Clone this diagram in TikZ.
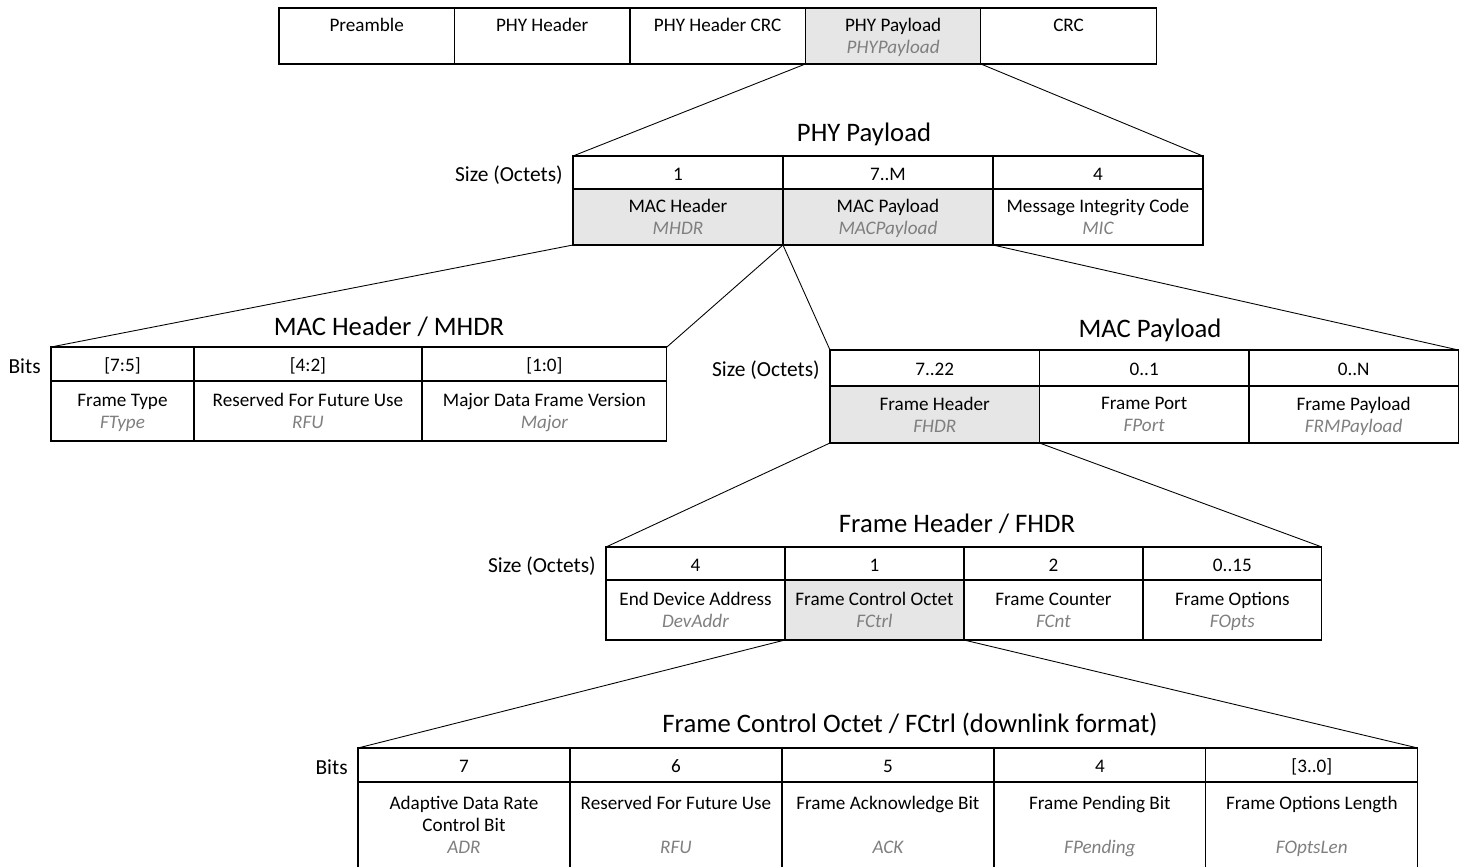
\documentclass[tikz,border=0pt]{standalone}
\usepackage{fontspec}
\setmainfont{Carlito}
\usetikzlibrary{positioning}
\definecolor{grisfond}{HTML}{E7E6E6}
\definecolor{gristexte}{HTML}{7F7F7F}
\newcommand{\sous}[1]{\textcolor{gristexte}{\itshape #1}}
\begin{document}
\begin{tikzpicture}[x=0.02cm, y=-0.02cm]
\tikzset{case/.style={draw, line width=0.7pt, inner sep=0pt, outer sep=0pt, align=center, anchor=north west, font=\fontsize{10.9}{12.6}\selectfont, execute at begin node=\strut, execute at end node=\strut, text depth=0pt}}
\tikzset{grise/.style={case, fill=grisfond}}
\tikzset{titre/.style={inner sep=0pt, font=\fontsize{15.2}{18}\selectfont}}
\tikzset{etiq/.style={inner sep=0pt, font=\fontsize{12.2}{14}\selectfont, yshift=-1.5pt}}
\tikzset{lien/.style={line width=0.5pt}}
\useasboundingbox (0,0) rectangle (1464,866);
\clip (0,0) rectangle (1464,866);
% trame physique
\node[case, minimum width=3.51cm, minimum height=1.12cm] (top1) at (279,8) {Preamble\\\mbox{}};
\node[case, minimum width=3.51cm, minimum height=1.12cm, right=0pt of top1] (top2) {PHY Header\\\mbox{}};
\node[case, minimum width=3.51cm, minimum height=1.12cm, right=0pt of top2] (top3) {PHY Header CRC\\\mbox{}};
\node[grise, minimum width=3.51cm, minimum height=1.12cm, right=0pt of top3] (top4) {PHY Payload\\\sous{PHYPayload}};
\node[case, minimum width=3.51cm, minimum height=1.12cm, right=0pt of top4] (top5) {CRC\\\mbox{}};
% PHY Payload
\node[titre] (tpl) at (864,134) {PHY Payload};
\node[case, minimum width=4.2cm, minimum height=0.66cm] (pl1) at (573,156) {1};
\node[case, minimum width=4.2cm, minimum height=0.66cm, right=0pt of pl1] (pl2) {7..M};
\node[case, minimum width=4.2cm, minimum height=0.66cm, right=0pt of pl2] (pl3) {4};
\node[grise, minimum width=4.2cm, minimum height=1.12cm, below=0pt of pl1] (pc1) {MAC Header\\\sous{MHDR}};
\node[grise, minimum width=4.2cm, minimum height=1.12cm, below=0pt of pl2] (pc2) {MAC Payload\\\sous{MACPayload}};
\node[case, minimum width=4.2cm, minimum height=1.12cm, below=0pt of pl3] (pc3) {Message Integrity Code\\\sous{MIC}};
\node[etiq, left=0.2cm of pl1] (lpl) {Size (Octets)};
% MAC Header
\node[titre] (tmh) at (389,327) {MAC Header / MHDR};
\node[case, minimum width=2.86cm, minimum height=0.68cm] (mh1) at (51,347) {[7:5]};
\node[case, minimum width=4.56cm, minimum height=0.68cm, right=0pt of mh1] (mh2) {[4:2]};
\node[case, minimum width=4.9cm, minimum height=0.68cm, right=0pt of mh2] (mh3) {[1:0]};
\node[case, minimum width=2.86cm, minimum height=1.2cm, below=0pt of mh1] (mhc1) {Frame Type\\\sous{FType}};
\node[case, minimum width=4.56cm, minimum height=1.2cm, below=0pt of mh2] (mhc2) {Reserved For Future Use\\\sous{RFU}};
\node[case, minimum width=4.9cm, minimum height=1.2cm, below=0pt of mh3] (mhc3) {Major Data Frame Version\\\sous{Major}};
\node[etiq, left=0.2cm of mh1] (lmh) {Bits};
% MAC Payload
\node[titre] (tmp) at (1150,330) {MAC Payload};
\node[case, minimum width=4.19cm, minimum height=0.72cm] (mp1) at (830,350) {7..22};
\node[case, minimum width=4.19cm, minimum height=0.72cm, right=0pt of mp1] (mp2) {0..1};
\node[case, minimum width=4.19cm, minimum height=0.72cm, right=0pt of mp2] (mp3) {0..N};
\node[grise, minimum width=4.19cm, minimum height=1.14cm, below=0pt of mp1] (mpc1) {Frame Header\\\sous{FHDR}};
\node[case, minimum width=4.19cm, minimum height=1.14cm, below=0pt of mp2] (mpc2) {Frame Port\\\sous{FPort}};
\node[case, minimum width=4.19cm, minimum height=1.14cm, below=0pt of mp3] (mpc3) {Frame Payload\\\sous{FRMPayload}};
\node[etiq, left=0.2cm of mp1] (lmp) {Size (Octets)};
% Frame Header
\node[titre] (tfh) at (957,524) {Frame Header / FHDR};
\node[case, minimum width=3.58cm, minimum height=0.66cm] (fh1) at (606,547) {4};
\node[case, minimum width=3.58cm, minimum height=0.66cm, right=0pt of fh1] (fh2) {1};
\node[case, minimum width=3.58cm, minimum height=0.66cm, right=0pt of fh2] (fh3) {2};
\node[case, minimum width=3.58cm, minimum height=0.66cm, right=0pt of fh3] (fh4) {0..15};
\node[case, minimum width=3.58cm, minimum height=1.2cm, below=0pt of fh1] (fhc1) {End Device Address\\\sous{DevAddr}};
\node[grise, minimum width=3.58cm, minimum height=1.2cm, below=0pt of fh2] (fhc2) {Frame Control Octet\\\sous{FCtrl}};
\node[case, minimum width=3.58cm, minimum height=1.2cm, below=0pt of fh3] (fhc3) {Frame Counter\\\sous{FCnt}};
\node[case, minimum width=3.58cm, minimum height=1.2cm, below=0pt of fh4] (fhc4) {Frame Options\\\sous{FOpts}};
\node[etiq, left=0.2cm of fh1] (lfh) {Size (Octets)};
% Frame Control
\node[titre] (tfc) at (910,725) {Frame Control Octet / FCtrl (downlink format)};
\node[case, minimum width=4.24cm, minimum height=0.68cm] (fc1) at (358,748) {7};
\node[case, minimum width=4.24cm, minimum height=0.68cm, right=0pt of fc1] (fc2) {6};
\node[case, minimum width=4.24cm, minimum height=0.68cm, right=0pt of fc2] (fc3) {5};
\node[case, minimum width=4.24cm, minimum height=0.68cm, right=0pt of fc3] (fc4) {4};
\node[case, minimum width=4.24cm, minimum height=0.68cm, right=0pt of fc4] (fc5) {[3..0]};
\node[case, minimum width=4.24cm, minimum height=1.72cm, below=0pt of fc1] (fcc1) {Adaptive Data Rate\\Control Bit\\\sous{ADR}};
\node[case, minimum width=4.24cm, minimum height=1.72cm, below=0pt of fc2] (fcc2) {Reserved For Future Use\\\mbox{}\\\sous{RFU}};
\node[case, minimum width=4.24cm, minimum height=1.72cm, below=0pt of fc3] (fcc3) {Frame Acknowledge Bit\\\mbox{}\\\sous{ACK}};
\node[case, minimum width=4.24cm, minimum height=1.72cm, below=0pt of fc4] (fcc4) {Frame Pending Bit\\\mbox{}\\\sous{FPending}};
\node[case, minimum width=4.24cm, minimum height=1.72cm, below=0pt of fc5] (fcc5) {Frame Options Length\\\mbox{}\\\sous{FOptsLen}};
\node[etiq, left=0.2cm of fc1] (lfc) {Bits};
% liens
\draw[lien] (top4.south west) -- (pl1.north west);
\draw[lien] (top4.south east) -- (pl3.north east);
\draw[lien] (pc1.south west) -- (mh1.north west);
\draw[lien] (pc1.south east) -- (mh3.north east);
\draw[lien] (pc2.south west) -- (mp1.north west);
\draw[lien] (pc2.south east) -- (mp3.north east);
\draw[lien] (mpc1.south west) -- (fh1.north west);
\draw[lien] (mpc1.south east) -- (fh4.north east);
\draw[lien] (fhc2.south west) -- (fc1.north west);
\draw[lien] (fhc2.south east) -- (fc5.north east);
\end{tikzpicture}
\end{document}
